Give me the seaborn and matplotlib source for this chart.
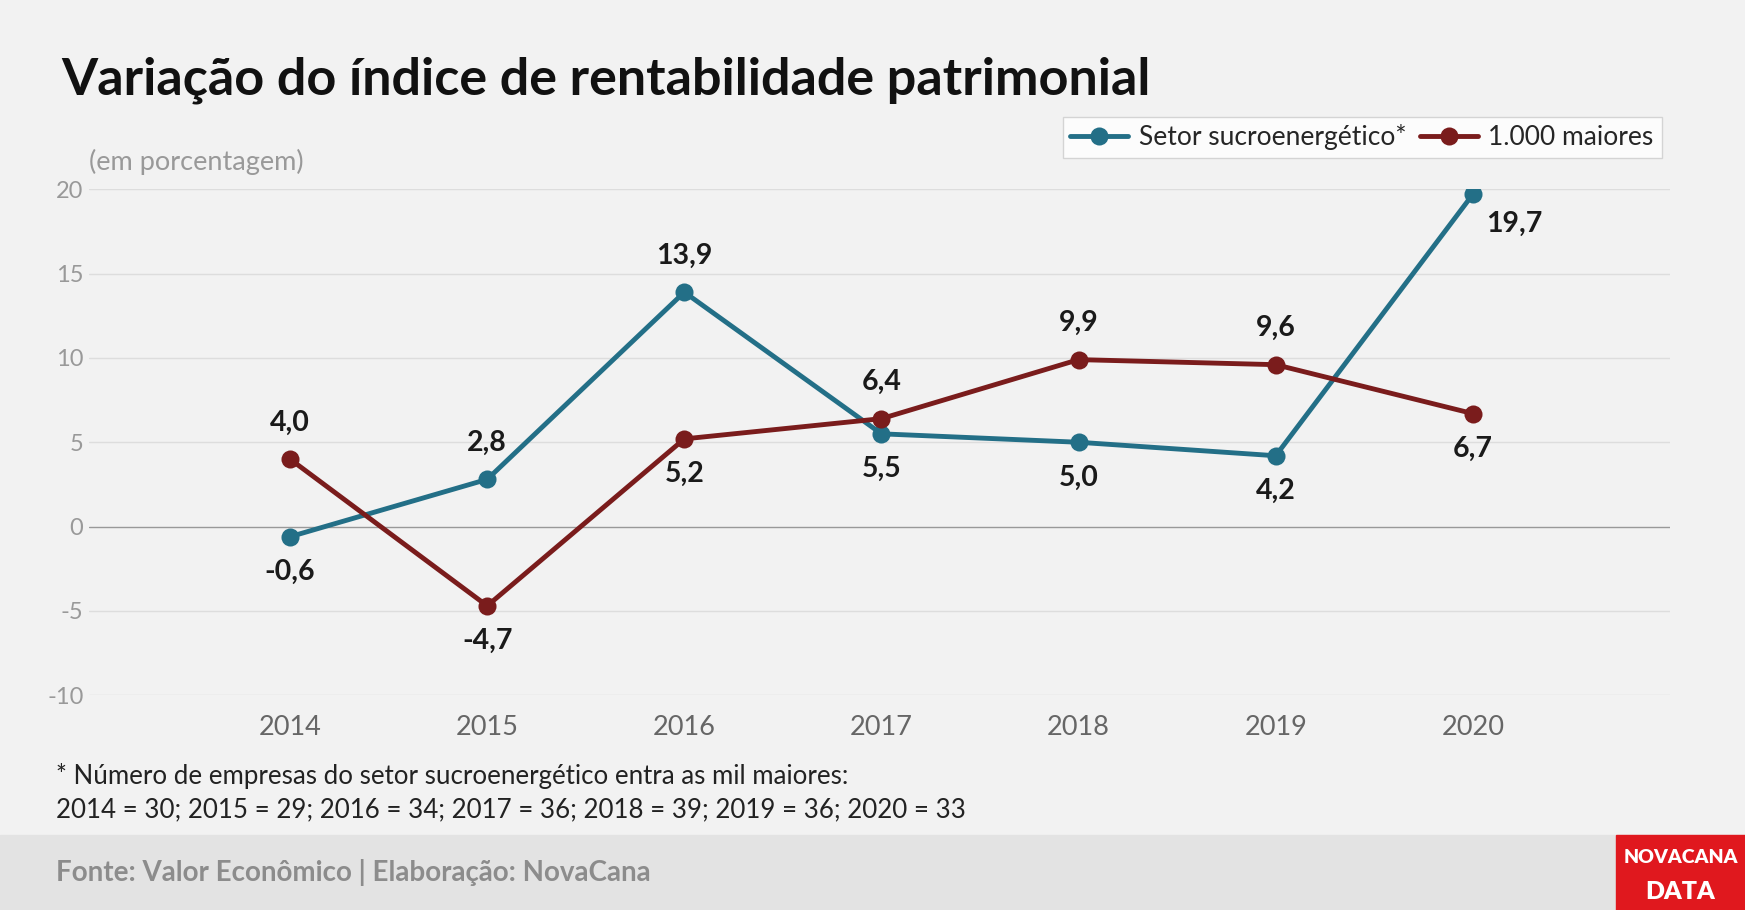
import matplotlib
matplotlib.use("Agg")
import matplotlib.pyplot as plt
import seaborn as sns
import pandas as pd
from matplotlib.patches import Rectangle

years = [2014, 2015, 2016, 2017, 2018, 2019, 2020]
setor = [-0.6, 2.8, 13.9, 5.5, 5.0, 4.2, 19.7]
maiores = [4.0, -4.7, 5.2, 6.4, 9.9, 9.6, 6.7]
setor_pos = ["below", "above", "above", "below", "below", "below", "belowright"]
maiores_pos = ["above", "below", "below", "above", "above", "above", "below"]
yticks = [-10, -5, 0, 5, 10, 15, 20]

sns.set_theme(style="white")
plt.rcParams['font.family'] = ['Lato', 'DejaVu Sans']

BG = "#f2f2f2"
C1 = "#236f87"
C2 = "#7a1c1c"

fig = plt.figure(figsize=(17.45, 9.1), dpi=100, facecolor=BG)
ax = fig.add_axes([0.051, 0.236, 0.906, 0.556])
ax.set_facecolor(BG)

df = pd.DataFrame({"year": years * 2, "val": setor + maiores,
                   "serie": ["Setor sucroenergético*"] * 7 + ["1.000 maiores"] * 7})
sns.lineplot(data=df, x="year", y="val", hue="serie", palette=[C1, C2], marker="o",
             markersize=13, linewidth=3.5, markeredgewidth=0, ax=ax)

ax.set_xlim(2012.98, 2021.0)
ax.set_ylim(-10, 20)
ax.set_yticks(yticks)
ax.set_yticklabels([str(t) for t in yticks], fontsize=17, color="#999999")
ax.set_xticks(years)
ax.set_xticklabels([str(y) for y in years], fontsize=19.5, color="#666666")
ax.tick_params(axis="y", pad=4, length=0)
ax.tick_params(axis="x", pad=14, length=0)
for t in yticks:
    ax.axhline(t, color="#999999" if t == 0 else "#dddddd", lw=1, zorder=0)
for s in ax.spines.values():
    s.set_visible(False)
ax.set_xlabel("")
ax.set_ylabel("")

def lab(x, v, pos):
    txt = f"{v:.1f}".replace(".", ",")
    kw = dict(textcoords="offset points", fontsize=20.5, fontweight="bold", color="#1a1a1a")
    if pos == "above":
        ax.annotate(txt, (x, v), xytext=(0, 17), ha="center", va="bottom", **kw)
    elif pos == "below":
        ax.annotate(txt, (x, v), xytext=(0, -16), ha="center", va="top", **kw)
    else:
        ax.annotate(txt, (x, v), xytext=(30, -12), ha="center", va="top", **kw)

for x, v, p in zip(years, setor, setor_pos):
    lab(x, v, p)
for x, v, p in zip(years, maiores, maiores_pos):
    lab(x, v, p)

leg = ax.legend(loc="lower right", bbox_to_anchor=(1.003, 1.035), ncol=2, fontsize=19,
                frameon=True, fancybox=False, handlelength=2.2, columnspacing=0.5,
                handletextpad=0.4, borderpad=0.3, facecolor="white", edgecolor="#cccccc")
leg.get_frame().set_linewidth(1)

fig.text(0.035, 0.912, "Variação do índice de rentabilidade patrimonial", fontsize=37.5,
         fontweight="bold", color="#111111", va="center")
fig.text(0.051, 0.822, "(em porcentagem)", fontsize=19.5, color="#999999", va="center")
fig.text(0.032, 0.147, "* Número de empresas do setor sucroenergético entra as mil maiores:",
         fontsize=18.6, color="#222222", va="center")
fig.text(0.032, 0.110, "2014 = 30; 2015 = 29; 2016 = 34; 2017 = 36; 2018 = 39; 2019 = 36; 2020 = 33",
         fontsize=18.6, color="#222222", va="center")

fig.add_artist(Rectangle((0, 0), 1, 0.082, transform=fig.transFigure, color="#e3e3e3", zorder=0))
fig.text(0.032, 0.041, "Fonte: Valor Econômico | Elaboração: NovaCana", fontsize=20,
         fontweight="bold", color="#8c8c8c", va="center")
fig.add_artist(Rectangle((0.926, 0), 0.074, 0.082, transform=fig.transFigure, color="#e0181e", zorder=1))
fig.text(0.963, 0.058, "NOVACANA", fontsize=14, fontweight="heavy", color="white",
         ha="center", va="center")
fig.text(0.963, 0.020, "DATA", fontsize=18, fontweight="heavy", color="white",
         ha="center", va="center")

fig.savefig("out.png", dpi=100, facecolor=BG)
